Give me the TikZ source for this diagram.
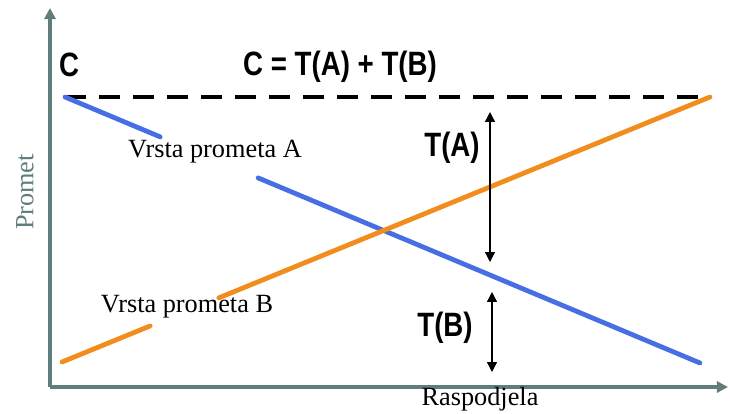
\documentclass[tikz,border=0pt]{standalone}
\usepackage{fontspec}
\setmainfont{Liberation Serif}
\newfontfamily\headfont[FakeStretch=0.82]{Liberation Sans}
\usetikzlibrary{arrows.meta,calc}

\definecolor{flowA}{RGB}{72,110,228}
\definecolor{flowB}{RGB}{242,140,28}
\definecolor{axisgray}{RGB}{95,125,125}

\tikzset{
    axisline/.style={axisgray, line width=2.2pt, -{Triangle[width=8pt,length=8pt]}},
    flowline/.style={line width=3.4pt, line cap=round},
    capline/.style={line width=2.8pt, dash pattern=on 15pt off 9.2pt},
    sharearrow/.style={line width=0.9pt, {Triangle[width=7pt,length=7pt]}-{Triangle[width=7pt,length=7pt]}},
    serifname/.style={font=\fontsize{18.7}{22}\selectfont, inner sep=0pt},
    sumname/.style={font=\headfont\bfseries\fontsize{24}{27}\selectfont, inner sep=0pt},
}

\begin{document}
\begin{tikzpicture}[x=0.25mm, y=-0.25mm]
    \useasboundingbox (0,0) rectangle (730,413);

    % axes
    \coordinate (origin) at (50,387);
    \coordinate (ytip) at (50,8);
    \coordinate (xtip) at (728,387);
    \draw[axisline] (origin) -- (ytip);
    \draw[axisline] (origin) -- (xtip);

    \node[serifname, axisgray, rotate=90] (promet) at (25,192) {Promet};
    \node[serifname, anchor=base] (raspodjela) at (480,405) {Raspodjela};

    % capacity C
    \coordinate (cleft) at (65,97);
    \coordinate (cright) at (710,97);
    \draw[capline] (cleft) -- (cright);

    \node[sumname] (cname) at (69,65) {C};
    \node[sumname] (csum) at (340,67) {C = T(A) + T(B)};

    % traffic type A
    \coordinate (astart) at (65,97);
    \coordinate (aend) at (700,363);
    \draw[flowline, flowA] (astart) -- ($(astart)!0.15!(aend)$);
    \draw[flowline, flowA] ($(astart)!0.304!(aend)$) -- (aend);
    \node[serifname, anchor=base] (vrstaA) at (215,157) {Vrsta prometa A};

    % traffic type B
    \coordinate (bstart) at (62,362);
    \coordinate (bend) at (710,97);
    \draw[flowline, flowB] (bstart) -- ($(bstart)!0.136!(bend)$);
    \draw[flowline, flowB] ($(bstart)!0.242!(bend)$) -- (bend);
    \node[serifname, anchor=base] (vrstaB) at (187,312) {Vrsta prometa B};

    % shares
    \coordinate (ta1) at (490,112);
    \coordinate (ta2) at (490,262);
    \draw[sharearrow] (ta1) -- (ta2);
    \node[sumname] (tA) at (452,148) {T(A)};

    \coordinate (tb1) at (492,292);
    \coordinate (tb2) at (492,372);
    \draw[sharearrow] (tb1) -- (tb2);
    \node[sumname] (tB) at (445,328) {T(B)};
\end{tikzpicture}
\end{document}
